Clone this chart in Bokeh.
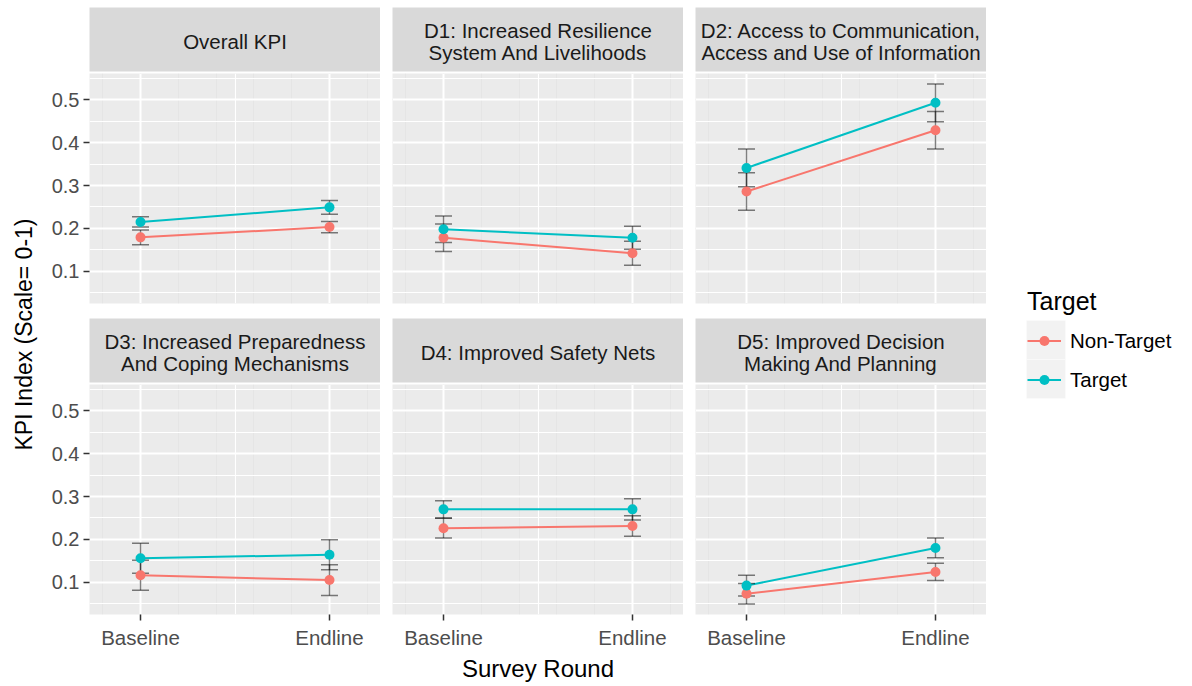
import math
from bokeh.plotting import figure
from bokeh.layouts import row, column
from bokeh.models import (Range1d, FixedTicker, Grid, LinearAxis, PrintfTickFormatter,
                          Label, BoxAnnotation, Legend, LegendItem)
from bokeh.embed import file_html
from bokeh.resources import INLINE

# ---------------- data ----------------
panels = [
    "Overall KPI",
    "D1: Increased Resilience\nSystem And Livelihoods",
    "D2: Access to Communication,\nAccess and Use of Information",
    "D3: Increased Preparedness\nAnd Coping Mechanisms",
    "D4: Improved Safety Nets",
    "D5: Improved Decision\nMaking And Planning",
]
rounds = ["Baseline", "Endline"]
groups = ["Non-Target", "Target"]
group_colors = ["#F8766D", "#00BFC4"]

nontarget_mean = [[0.179, 0.203], [0.178, 0.142], [0.286, 0.429],
                  [0.116, 0.105], [0.226, 0.231], [0.073, 0.124]]
nontarget_err = [[0.017, 0.013], [0.032, 0.028], [0.044, 0.044],
                 [0.035, 0.036], [0.023, 0.024], [0.024, 0.020]]
target_mean = [[0.215, 0.249], [0.198, 0.178], [0.341, 0.493],
               [0.156, 0.164], [0.270, 0.270], [0.092, 0.180]]
target_err = [[0.012, 0.016], [0.031, 0.027], [0.044, 0.044],
              [0.035, 0.035], [0.020, 0.025], [0.024, 0.023]]

y_ticks = [0.1, 0.2, 0.3, 0.4, 0.5]
y_minor = [0.05, 0.15, 0.25, 0.35, 0.45, 0.55]

FONT = "Liberation Sans"

means = [nontarget_mean, target_mean]
errs = [nontarget_err, target_err]

lows = [m - e for gm, ge in zip(means, errs) for pm, pe in zip(gm, ge) for m, e in zip(pm, pe)]
highs = [m + e for gm, ge in zip(means, errs) for pm, pe in zip(gm, ge) for m, e in zip(pm, pe)]
lo, hi = min(lows), max(highs)
pad = 0.05 * (hi - lo)
y_lo, y_hi = lo - pad, hi + pad

x_pos = [rounds.index(r) for r in rounds]

# ---------------- layout sizes ----------------
YLAB_W = 46       # width of the y-title strip
AX_W = 43         # room for y tick labels in first column
GAP_X = 12        # horizontal gap between panels
FW = 291          # frame width of a panel
FH = 230          # frame height of a panel
STRIP_H = 64
TOP_PAD = 7
ROW_GAP = 15
XAX_H = 40
XLAB_H = 28
LW = 190


def col_left(col):
    return AX_W if col == 0 else GAP_X


def make_strip(i):
    col, rw = i % 3, i // 3
    left = col_left(col)
    top = TOP_PAD if rw == 0 else 0
    s = figure(width=left + FW, height=STRIP_H + 2 + top, x_range=Range1d(0, 1),
               y_range=Range1d(0, 1), x_axis_location=None, y_axis_location=None,
               toolbar_location=None, output_backend="svg", min_border_left=left,
               min_border_right=0, min_border_top=top, min_border_bottom=2,
               background_fill_color="#D9D9D9", border_fill_color="white",
               outline_line_color=None)
    s.xgrid.visible = False
    s.ygrid.visible = False
    s.add_layout(Label(x=0.5, y=0.5, y_offset=-2, text=panels[i], text_align="center",
                       text_baseline="middle", text_font=FONT, text_font_size="20.5px",
                       text_color="#1A1A1A", text_line_height=0.95))
    return s


def make_panel(i):
    col, rw = i % 3, i // 3
    left = col_left(col)
    bottom = ROW_GAP if rw == 0 else XAX_H
    p = figure(width=left + FW, height=FH + bottom,
               x_range=Range1d(-0.27, 1.27), y_range=Range1d(y_lo, y_hi),
               x_axis_location=None, y_axis_location=None, toolbar_location=None,
               output_backend="svg", min_border_left=left, min_border_right=0,
               min_border_top=0, min_border_bottom=bottom,
               background_fill_color="#EBEBEB", border_fill_color="white",
               outline_line_color=None)
    p.add_layout(Grid(dimension=0, ticker=FixedTicker(ticks=x_pos, minor_ticks=[0.5]),
                      grid_line_color="white", grid_line_width=2,
                      minor_grid_line_color="white", minor_grid_line_width=1.1))
    p.add_layout(Grid(dimension=1, ticker=FixedTicker(ticks=y_ticks, minor_ticks=y_minor),
                      grid_line_color="white", grid_line_width=2,
                      minor_grid_line_color="white", minor_grid_line_width=1.1))
    if col == 0:
        ax = LinearAxis(ticker=FixedTicker(ticks=y_ticks),
                        formatter=PrintfTickFormatter(format="%.1f"),
                        major_label_text_font=FONT, major_label_text_font_size="20px",
                        major_label_text_color="#4D4D4D", major_tick_line_color="#333333",
                        major_tick_line_width=1.5, major_tick_out=6, major_tick_in=0,
                        minor_tick_line_color=None, axis_line_color=None,
                        major_label_standoff=4)
        p.add_layout(ax, "left")
    if rw == 1:
        axx = LinearAxis(ticker=FixedTicker(ticks=x_pos),
                         major_label_overrides={k: r for k, r in zip(x_pos, rounds)},
                         major_label_text_font=FONT, major_label_text_font_size="20.5px",
                         major_label_text_color="#4D4D4D", major_tick_line_color="#333333",
                         major_tick_line_width=1.5, major_tick_out=6, major_tick_in=0,
                         minor_tick_line_color=None, axis_line_color=None,
                         major_label_standoff=5)
        p.add_layout(axx, "below")

    for g in range(len(groups)):
        p.line(x_pos, means[g][i], line_color=group_colors[g], line_width=2)
    for g in range(len(groups)):
        m, e = means[g][i], errs[g][i]
        up = [a + b for a, b in zip(m, e)]
        dn = [a - b for a, b in zip(m, e)]
        p.segment(x0=x_pos, x1=x_pos, y0=dn, y1=up, line_color="black",
                  line_alpha=0.5, line_width=1.5)
        p.scatter(x_pos + x_pos, up + dn, marker="dash", size=17, line_color="black",
                  line_alpha=0.5, line_width=1.5)
    for g in range(len(groups)):
        p.scatter(x_pos, means[g][i], size=10, fill_color=group_colors[g],
                  line_color=None)
    return p


strips = [make_strip(i) for i in range(6)]
plots = [make_panel(i) for i in range(6)]

GRID_W = AX_W + 3 * FW + 2 * GAP_X

# x-axis title
xlab = figure(width=GRID_W, height=XLAB_H, x_range=Range1d(0, 1),
              y_range=Range1d(0, XLAB_H), x_axis_location=None, y_axis_location=None,
              toolbar_location=None, output_backend="svg", min_border_left=AX_W,
              min_border_right=0, min_border_top=0, min_border_bottom=0,
              background_fill_color="white", border_fill_color="white",
              outline_line_color=None)
xlab.xgrid.visible = False
xlab.ygrid.visible = False
xlab.add_layout(Label(x=0.5, y=XLAB_H / 2, text="Survey Round", text_align="center",
                      text_baseline="middle", text_font=FONT, text_font_size="24px",
                      text_color="black"))

TOTAL_H = TOP_PAD + (STRIP_H + 2) * 2 + (FH + ROW_GAP) + (FH + XAX_H) + XLAB_H

# y-axis title
ylab = figure(width=YLAB_W, height=TOTAL_H, x_range=Range1d(0, YLAB_W),
              y_range=Range1d(0, TOTAL_H), x_axis_location=None, y_axis_location=None,
              toolbar_location=None, output_backend="svg", min_border=0,
              background_fill_color="white", border_fill_color="white",
              outline_line_color=None)
ylab.xgrid.visible = False
ylab.ygrid.visible = False
ylab.add_layout(Label(x=23, y=TOTAL_H - 334, text="KPI Index (Scale= 0-1)", angle=math.pi / 2,
                      text_align="center", text_baseline="middle", text_font=FONT,
                      text_font_size="23px", text_color="black"))

# legend panel
leg = figure(width=LW, height=TOTAL_H, x_range=Range1d(0, LW), y_range=Range1d(0, TOTAL_H),
             x_axis_location=None, y_axis_location=None, toolbar_location=None,
             output_backend="svg", min_border=0, background_fill_color="white",
             border_fill_color="white", outline_line_color=None)
leg.xgrid.visible = False
leg.ygrid.visible = False
for k in range(len(groups)):
    key_top = 320 + 39 * k
    leg.add_layout(BoxAnnotation(left=40, right=79, top=TOTAL_H - key_top,
                                 bottom=TOTAL_H - key_top - 39, fill_color="#F2F2F2",
                                 fill_alpha=1, line_color="white", line_width=1,
                                 level="underlay"))
items = []
nan = float("nan")
for g, name in enumerate(groups):
    lr = leg.line(x=[nan], y=[nan], line_color=group_colors[g], line_width=2)
    sr = leg.scatter(x=[nan], y=[nan], size=10, fill_color=group_colors[g], line_color=None)
    items.append(LegendItem(label=name, renderers=[lr, sr]))
legend = Legend(items=items, location=(41, TOTAL_H - 392), title="Target",
                title_text_font=FONT, title_text_font_size="25px", title_text_color="black",
                title_text_font_style="normal", title_standoff=12,
                label_text_font=FONT, label_text_font_size="20.5px", label_text_color="black",
                glyph_width=34, glyph_height=25, label_height=25, label_standoff=9,
                spacing=14, padding=0, margin=0, border_line_color=None,
                background_fill_alpha=0)
leg.add_layout(legend)

grid = column(
    row(strips[0], strips[1], strips[2]),
    row(plots[0], plots[1], plots[2]),
    row(strips[3], strips[4], strips[5]),
    row(plots[3], plots[4], plots[5]),
    xlab,
)
layout = row(ylab, grid, leg)

open("out.html", "w").write(file_html(layout, INLINE))
